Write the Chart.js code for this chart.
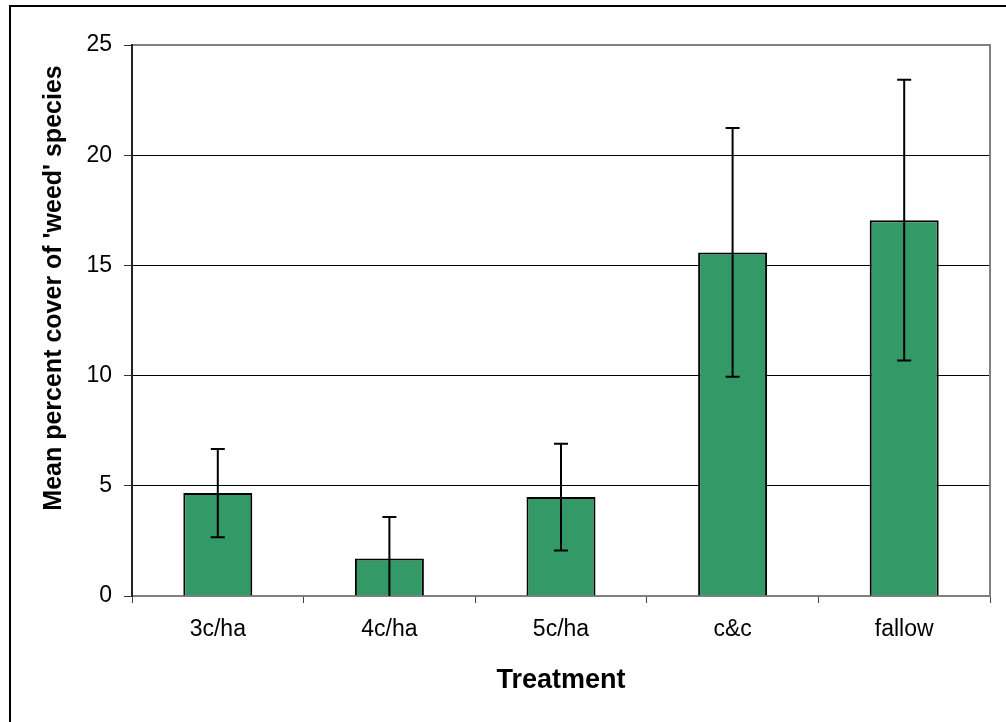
<!DOCTYPE html>
<html>
<head>
<meta charset="utf-8">
<script src="https://cdn.jsdelivr.net/npm/chart.js@4"></script>
<style>
	body { margin: 0; background: #ffffff; overflow: hidden; }
	#frame { position: absolute; left: 9px; top: 5px; width: 1100px; height: 800px; border: 2px solid #000000; }
	#chart { position: absolute; left: 0; top: 0; }
</style>
</head>
<body>
<div id="frame"></div>
<canvas id="chart" width="1006" height="722"></canvas>
<script>
// Treatments on the x axis
var categories = ['3c/ha', '4c/ha', '5c/ha', 'c&c', 'fallow'];

// Mean percent cover and the error bar half-length for each treatment
var meanCover = [4.67, 1.70, 4.49, 15.59, 17.05];
var errorSize = [2.00, 1.88, 2.42, 5.64, 6.37];

// Y axis range
var yMin = 0;
var yMax = 25;
var yStep = 5;

var fontFamily = '"Liberation Sans", Arial, sans-serif';

// Gray plot area border with the black y axis line on its left
var plotBorder = {
	id: 'plotBorder',
	beforeDatasetsDraw: function(chart) {
		var ctx = chart.ctx;
		var a = chart.chartArea;
		ctx.save();
		ctx.strokeStyle = '#808080';
		ctx.lineWidth = 2;
		ctx.strokeRect(a.left, a.top, a.right - a.left, a.bottom - a.top);
		ctx.strokeStyle = '#222222';
		ctx.beginPath();
		ctx.moveTo(a.left, a.top - 1);
		ctx.lineTo(a.left, a.bottom + 1);
		ctx.stroke();
		ctx.restore();
	}
};

// Error bars drawn from the y scale
var errorBars = {
	id: 'errorBars',
	afterDatasetsDraw: function(chart) {
		var ctx = chart.ctx;
		var yScale = chart.scales.y;
		var meta = chart.getDatasetMeta(0);
		ctx.save();
		ctx.strokeStyle = '#000000';
		ctx.lineWidth = 2;
		for (var i = 0; i < meanCover.length; i++) {
			var x = meta.data[i].x;
			var top = yScale.getPixelForValue(meanCover[i] + errorSize[i]);
			var bottom = yScale.getPixelForValue(Math.max(meanCover[i] - errorSize[i], 0));
			ctx.beginPath();
			ctx.moveTo(x, top);
			ctx.lineTo(x, bottom);
			ctx.moveTo(x - 7, top);
			ctx.lineTo(x + 7, top);
			if (meanCover[i] - errorSize[i] > 0) {
				ctx.moveTo(x - 7, bottom);
				ctx.lineTo(x + 7, bottom);
			}
			ctx.stroke();
		}
		ctx.restore();
	}
};

// Y axis title, placed a little above centre like the original
var yTitle = {
	id: 'yTitle',
	afterDraw: function(chart) {
		var ctx = chart.ctx;
		ctx.save();
		ctx.translate(54, 288);
		ctx.rotate(-Math.PI / 2);
		ctx.font = 'bold 25px ' + fontFamily;
		ctx.fillStyle = '#000000';
		ctx.textAlign = 'center';
		ctx.textBaseline = 'middle';
		ctx.fillText("Mean percent cover of 'weed' species", 0, 0);
		ctx.restore();
	}
};

var ctx = document.getElementById('chart').getContext('2d');
var myChart = new Chart(ctx, {
	type: 'bar',
	data: {
		labels: categories,
		datasets: [{
			data: meanCover,
			backgroundColor: '#339966',
			borderColor: '#000000',
			borderWidth: 2,
			barPercentage: 0.402,
			categoryPercentage: 1.0
		}]
	},
	options: {
		responsive: false,
		animation: false,
		layout: {
			padding: { left: 0, top: 45, right: 16, bottom: 0 }
		},
		plugins: {
			legend: { display: false },
			tooltip: { enabled: false }
		},
		scales: {
			x: {
				offset: true,
				grid: {
					offset: true,
					drawOnChartArea: false,
					drawTicks: true,
					tickLength: 7,
					color: '#444444',
					lineWidth: 1
				},
				border: { display: false },
				ticks: {
					color: '#000000',
					padding: 13,
					font: { family: fontFamily, size: 23 }
				},
				title: {
					display: true,
					text: 'Treatment',
					color: '#000000',
					padding: { top: 0, bottom: 25 },
					font: { family: fontFamily, size: 27, weight: 'bold' }
				},
				afterFit: function(scale) { scale.height = 126; }
			},
			y: {
				min: yMin,
				max: yMax,
				grid: {
					color: '#000000',
					lineWidth: 1,
					tickLength: 8,
					tickColor: '#333333'
				},
				border: { display: false },
				ticks: {
					stepSize: yStep,
					color: '#000000',
					padding: 12,
					font: { family: fontFamily, size: 23 }
				},
				afterFit: function(scale) { scale.width = 132; }
			}
		}
	},
	plugins: [plotBorder, errorBars, yTitle]
});
</script>
</body>
</html>
